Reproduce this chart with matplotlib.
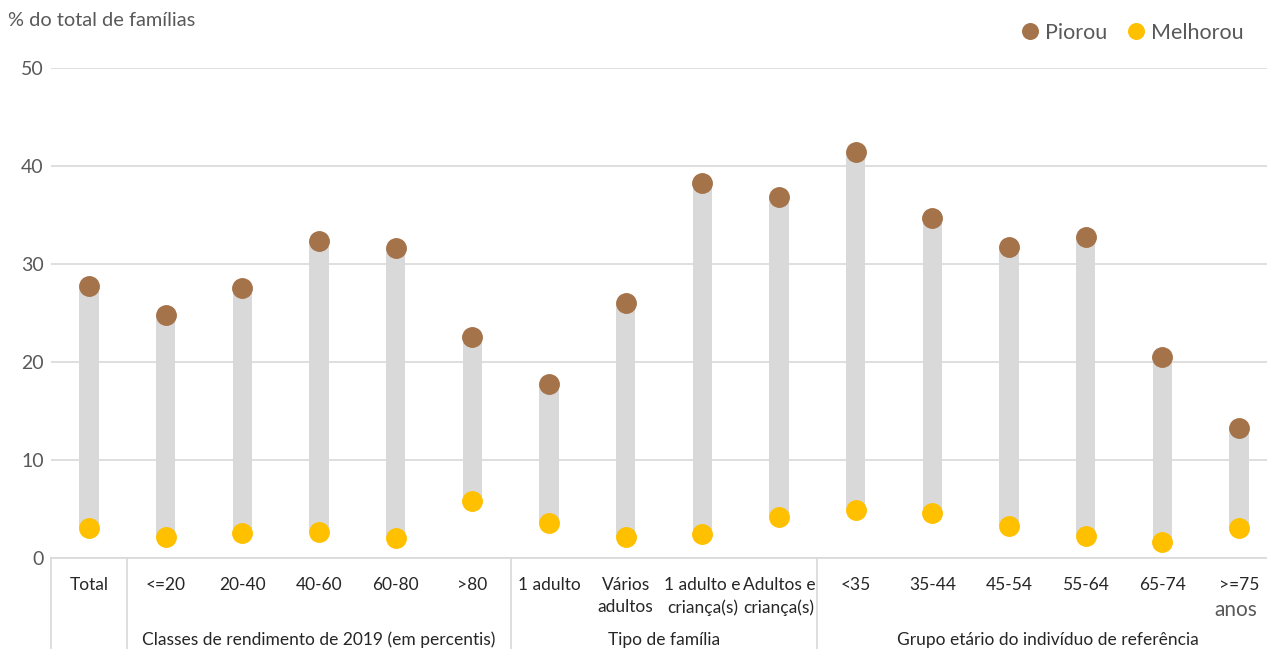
import matplotlib.pyplot as plt
import matplotlib.transforms as mtransforms
import numpy as np

plt.rcParams['font.family'] = ['Lato', 'DejaVu Sans']

# data
categories = ["Total", "<=20", "20-40", "40-60", "60-80", ">80",
              "1 adulto", "Vários\nadultos", "1 adulto e\ncriança(s)", "Adultos e\ncriança(s)",
              "<35", "35-44", "45-54", "55-64", "65-74", ">=75\nanos"]
piorou = [27.8, 24.8, 27.6, 32.3, 31.6, 22.6,
          17.8, 26.0, 38.3, 36.8,
          41.4, 34.7, 31.7, 32.8, 20.5, 13.3]
melhorou = [3.1, 2.1, 2.6, 2.7, 2.0, 5.8,
            3.6, 2.1, 2.5, 4.2,
            4.9, 4.6, 3.3, 2.2, 1.6, 3.1]
groups = ["", "Classes de rendimento de 2019 (em percentis)", "Tipo de família",
          "Grupo etário do indivíduo de referência"]
group_sizes = [1, 5, 4, 6]

txt = "#595959"
dark = "#262626"
grid = "#d9d9d9"
brown = "#A5734A"
yellow = "#FFC000"

W, H = 1267, 649
fig = plt.figure(figsize=(W / 100, H / 100), dpi=100)
# axes runs a bit past the right edge of the picture, as in the reference
ax = fig.add_axes([50.7 / W, 91 / H, 1226.7 / W, 490 / H])

x = np.arange(len(categories))
lo = np.minimum(piorou, melhorou)
hi = np.maximum(piorou, melhorou)
ax.bar(x, hi - lo, bottom=lo, width=0.25, color=grid, zorder=2)
ax.plot(x, piorou, 'o', color=brown, ms=14, zorder=3, label="Piorou")
ax.plot(x, melhorou, 'o', color=yellow, ms=14, zorder=3, label="Melhorou")

ax.set_xlim(-0.5, len(categories) - 0.5)
ax.set_ylim(0, 50)
ax.set_yticks(range(0, 51, 10))
ax.yaxis.grid(True, color=grid, lw=1.2, zorder=0)
ax.set_axisbelow(True)
for s in ["top", "right", "left"]:
    ax.spines[s].set_visible(False)
ax.spines["bottom"].set_color(grid)
ax.spines["bottom"].set_linewidth(1.2)
ax.tick_params(axis="y", length=0, pad=5, labelsize=14, labelcolor=txt)
ax.tick_params(axis="x", length=0, pad=14, labelsize=12.5, labelcolor=dark)
ax.set_xticks(x)
ax.set_xticklabels([c if not c.endswith("anos") else c.split("\n")[0] for c in categories],
                   va="top", linespacing=1.45)

trans = mtransforms.blended_transform_factory(ax.transData, ax.transAxes)
# the wrapped "anos" of the last label is drawn grey, as in the reference
for i, c in enumerate(categories):
    if c.endswith("anos"):
        ax.text(i - 0.04, -(610 - 558) / 490, c.split("\n")[1], transform=trans,
                ha="center", va="center", fontsize=15, color=txt)

# group separators and labels below the axis
edges = np.concatenate([[0], np.cumsum(group_sizes)]) - 0.5
for e in edges[:-1]:
    ax.plot([e, e], [0, -0.19], color=grid, lw=1.2, transform=trans, clip_on=False)
for g, a, b in zip(groups, edges[:-1], edges[1:]):
    if g:
        ax.text((a + b) / 2, -(640 - 558) / 490, g, transform=trans, ha="center", va="center",
                fontsize=12.5, color=dark)

fig.text(8 / W, 1 - 20 / H, "% do total de famílias", ha="left", va="center",
         fontsize=14.4, color=txt)
fig.legend(loc="center right", bbox_to_anchor=(1244 / W, 1 - 33 / H), ncol=2, frameon=False,
           fontsize=15.5, labelcolor=txt, handlelength=0.7, handletextpad=0.35,
           columnspacing=1.0, markerscale=0.8, borderaxespad=0, borderpad=0)

fig.savefig("out.png", dpi=100)
